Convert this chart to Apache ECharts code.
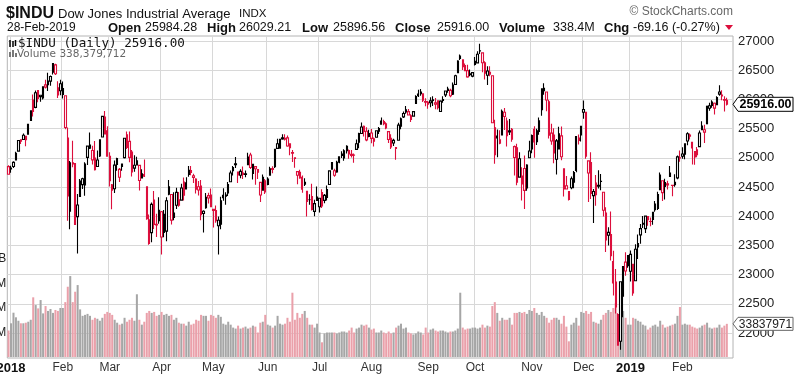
<!DOCTYPE html>
<html><head><meta charset="utf-8">
<script src="https://cdn.jsdelivr.net/npm/echarts@6/dist/echarts.min.js"></script>
<style>html,body{margin:0;padding:0;background:#fff}#c{width:800px;height:380px}</style>
</head><body><div id="c"></div>
<script>
// ---------- DATA ----------
const prevClose = 24837.51; // close before first bar
const startDate = '2017-12-29', endDate = '2019-02-28';
const holidays = ['2018-01-01','2018-01-15','2018-02-19','2018-03-30','2018-05-28','2018-07-04','2018-09-03','2018-11-22','2018-12-05','2018-12-25','2019-01-01','2019-01-21','2019-02-18'];
const monthNames = ['Jan','Feb','Mar','Apr','May','Jun','Jul','Aug','Sep','Oct','Nov','Dec'];

// [open, high, low, close]
const ohlc_2017_12 = [[24849,24871,24719,24719]];
const ohlc_2018_01 = [[24809,24864,24742,24824],[24850,24941,24825,24922],[24964,25105,24963,25075],[25114,25299,25112,25295],[25308,25311,25236,25283],[25313,25417,25306,25385],[25309,25370,25199,25369],[25404,25575,25404,25574],[25638,25812,25638,25803],[25987,26086,25709,25792],[25863,26153,25850,26115],[26150,26154,25953,26017],[26047,26072,25959,26071],[26026,26215,25998,26214],[26248,26338,26186,26210],[26314,26458,26144,26252],[26313,26410,26235,26392],[26467,26617,26428,26616],[26591,26609,26418,26439],[26198,26312,26022,26076],[26268,26338,26071,26149]];
const ohlc_2018_02 = [[26083,26306,26014,26186],[26062,26062,25490,25520],[25337,25520,23923,24345],[24085,24946,23778,24913],[24916,25294,24840,24893],[24903,24903,23849,23860],[23993,24382,23360,24191],[24337,24636,24337,24601],[24541,24658,24466,24640],[24536,24925,24350,24893],[25008,25200,24876,25200],[25165,25432,25149,25219],[25125,25207,24884,24964],[24996,25286,24782,24798],[24852,25126,24844,24963],[25033,25310,25013,25310],[25355,25709,25355,25709],[25697,25800,25409,25410],[25463,25540,25028,25029]];
const ohlc_2018_03 = [[25024,25093,24509,24608],[24447,24551,24117,24538],[24469,24955,24396,24874],[24988,24999,24779,24884],[24668,24827,24584,24801],[24853,24904,24779,24895],[25003,25336,24990,25336],[25393,25450,25151,25178],[25281,25449,24923,25007],[25097,25133,24681,24758],[24823,25042,24762,24873],[24878,25020,24877,24947],[24870,24870,24438,24611],[24656,24806,24649,24727],[24712,24972,24671,24683],[24504,24504,23940,23958],[23940,24028,23510,23533],[23719,24233,23556,24202],[24277,24430,23779,23857],[23862,24040,23645,23849],[23921,24326,23872,24103]];
const ohlc_2018_04 = [[24076,24090,23345,23644],[23720,24107,23641,24034],[23745,24325,23573,24264],[24375,24622,24358,24505],[24372,24372,23859,23933],[24052,24408,23932,23979],[24187,24488,24122,24408],[24282,24414,24160,24189],[24275,24556,24270,24483],[24585,24662,24269,24360],[24466,24665,24466,24573],[24713,24858,24676,24786],[24781,24859,24700,24748],[24693,24728,24568,24665],[24635,24649,24390,24463],[24503,24602,24356,24448],[24515,24621,23931,24024],[24045,24104,23723,24084],[24146,24398,24129,24322],[24353,24400,24219,24311],[24363,24474,24162,24163]];
const ohlc_2018_05 = [[24117,24117,23808,24100],[24097,24185,23886,23925],[23836,23996,23344,23930],[23865,24333,23778,24263],[24317,24479,24263,24357],[24341,24412,24198,24361],[24399,24586,24346,24542],[24591,24784,24591,24739],[24777,24860,24697,24831],[24883,25015,24824,24899],[24757,24757,24570,24706],[24700,24804,24650,24768],[24741,24853,24638,24714],[24727,24783,24667,24715],[24883,25087,24883,25013],[25048,25086,24810,24835],[24732,24887,24627,24887],[24849,24849,24538,24812],[24800,24800,24639,24753],[24579,24579,24245,24362],[24444,24716,24444,24668],[24607,24636,24382,24416]];
const ohlc_2018_06 = [[24542,24667,24530,24635],[24701,24845,24701,24813],[24818,24856,24734,24800],[24848,25147,24826,25147],[25161,25326,25161,25241],[25165,25318,25160,25317],[25342,25403,25309,25322],[25335,25402,25296,25320],[25342,25383,25191,25201],[25240,25240,25044,25175],[25079,25133,24926,25090],[24999,25009,24829,24987],[24763,24763,24545,24700],[24751,24794,24642,24657],[24664,24697,24401,24461],[24548,24650,24516,24580],[24426,24426,23997,24252],[24284,24375,24196,24284],[24336,24554,24098,24117],[24082,24283,23999,24216],[24326,24509,24271,24271]];
const ohlc_2018_07 = [[24161,24307,24062,24307],[24406,24462,24141,24174],[24271,24381,24222,24357],[24322,24526,24268,24456],[24542,24781,24542,24776],[24805,24920,24805,24919],[24777,24811,24675,24700],[24759,24948,24744,24924],[24923,25020,24907,25019],[25041,25114,24996,25064],[24996,25145,24949,25120],[25121,25215,25074,25199],[25125,25142,24985,25064],[25040,25135,25006,25058],[25047,25075,24917,25044],[25145,25313,25144,25241],[25268,25427,25162,25414],[25415,25603,25415,25527],[25541,25555,25366,25451],[25454,25524,25283,25307],[25366,25481,25354,25415]];
const ohlc_2018_08 = [[25425,25493,25250,25333],[25285,25347,25193,25326],[25353,25471,25342,25463],[25457,25527,25408,25502],[25575,25692,25575,25629],[25622,25652,25558,25583],[25582,25609,25491,25509],[25449,25449,25253,25313],[25336,25403,25152,25187],[25253,25328,25204,25299],[25174,25174,24965,25162],[25301,25602,25301,25559],[25539,25692,25490,25669],[25700,25793,25680,25758],[25785,25888,25754,25822],[25791,25835,25723,25733],[25719,25746,25615,25656],[25714,25800,25707,25790],[25930,26070,25930,26049],[26091,26167,26043,26064],[26097,26180,26061,26124],[26096,26103,25955,25986],[25954,26018,25883,25964]];
const ohlc_2018_09 = [[25917,25972,25840,25952],[25943,26037,25865,25974],[25983,26052,25889,25995],[25940,26025,25830,25916],[25974,25981,25828,25857],[25792,25987,25791,25971],[25980,26055,25941,25998],[26077,26154,26041,26145],[26178,26217,26115,26154],[26154,26184,26035,26062],[26088,26291,26075,26246],[26256,26423,26256,26405],[26456,26671,26456,26657],[26703,26770,26676,26743],[26678,26679,26502,26562],[26581,26613,26480,26492],[26492,26592,26369,26385],[26425,26511,26397,26440],[26399,26469,26378,26458]];
const ohlc_2018_10 = [[26598,26726,26579,26651],[26625,26824,26625,26774],[26833,26952,26778,26828],[26796,26804,26466,26627],[26628,26652,26341,26447],[26413,26568,26245,26487],[26466,26566,26395,26431],[26405,26415,25598,25599],[25512,25650,24899,25053],[25371,25484,25008,25340],[25309,25470,25234,25251],[25390,25827,25390,25798],[25779,25853,25475,25706],[25628,25688,25192,25380],[25462,25664,25389,25444],[25489,25511,25273,25317],[25005,25209,24697,25191],[25173,25242,24528,24583],[24669,25093,24669,24984],[24551,24840,24268,24689],[24818,25040,24122,24443],[24482,24890,24435,24875],[25002,25292,24993,25116]];
const ohlc_2018_11 = [[25152,25398,25077,25380],[25487,25542,25002,25271],[25276,25497,25218,25462],[25452,25689,25394,25635],[25823,26192,25722,26181],[26147,26277,26081,26191],[26127,26127,25796,25989],[25960,25992,25332,25387],[25423,25581,25223,25287],[25388,25506,24905,25081],[24974,25322,24716,25290],[25150,25533,25150,25413],[25376,25535,24956,25018],[24810,24810,24339,24466],[24522,24688,24465,24465],[24420,24427,24268,24286],[24488,24680,24460,24640],[24582,24774,24478,24749],[24783,25366,24754,25366],[25295,25397,25226,25339],[25393,25539,25277,25538]];
const ohlc_2018_12 = [[25779,25980,25670,25827],[25781,25781,24983,25027],[24740,24956,24242,24947],[24919,25095,24293,24389],[24353,24466,23882,24423],[24566,24707,24179,24370],[24513,24786,24474,24527],[24594,24722,24446,24597],[24410,24410,23993,24101],[24053,24154,23389,23592],[23723,23810,23498,23675],[23685,24080,23242,23324],[23225,23409,22640,22859],[22872,23096,22335,22445],[22317,22339,21792,21792],[21858,22878,21712,22878],[22629,23139,22268,23138],[23213,23381,22981,23062],[23154,23333,23118,23327]];
const ohlc_2019_01 = [[23058,23413,22880,23346],[23177,23177,22638,22686],[22894,23518,22894,23433],[23474,23687,23266,23531],[23680,23865,23529,23787],[23864,24004,23796,23879],[23787,24002,23713,24001],[23940,24003,23837,23996],[23909,23977,23826,23910],[23943,24075,23855,24066],[24112,24262,24075,24207],[24134,24418,24108,24370],[24453,24750,24453,24706],[24606,24606,24261,24404],[24511,24640,24288,24575],[24535,24605,24458,24553],[24680,24859,24680,24737],[24529,24529,24340,24528],[24540,24717,24505,24580],[24656,25041,24631,25015],[25001,25124,24931,24999]];
const ohlc_2019_02 = [[25026,25180,24983,25064],[25063,25239,24977,25239],[25287,25439,25217,25411],[25371,25417,25314,25390],[25265,25265,24884,25169],[25015,25111,24883,25106],[25139,25187,25008,25053],[25192,25467,25192,25425],[25482,25625,25476,25543],[25481,25564,25253,25439],[25583,25883,25583,25883],[25848,25942,25807,25891],[25898,25986,25856,25954],[25934,25948,25743,25850],[25909,26052,25908,26031],[26127,26241,26064,26091],[26076,26156,25986,26057],[25996,26052,25792,25985.16],[25984.28,26029.21,25896.56,25916.00]];

// volume, millions of shares
const vol_2017_12 = [270];
const vol_2018_01 = [344,452,405,370,344,344,350,360,380,609,530,496,581,445,520,470,490,450,480,470,500];
const vol_2018_02 = [500,560,717,826,560,666,734,486,420,430,440,420,380,400,390,370,400,440,460];
const vol_2018_03 = [450,430,380,350,330,340,400,360,380,400,370,640,380,330,360,450,470,450,460,420,430];
const vol_2018_04 = [460,430,440,420,430,380,400,350,340,340,320,360,330,340,380,370,430,420,420,370,430];
const vol_2018_05 = [420,400,430,410,340,330,360,330,300,290,320,290,300,310,290,300,320,310,250,350,360,430];
const vol_2018_06 = [330,320,300,320,420,340,330,340,400,360,656,380,450,400,440,470,400,330,330,300,340];
const vol_2018_07 = [250,150,240,250,250,250,250,240,250,260,260,250,270,300,250,290,300,330,320,330,300];
const vol_2018_08 = [280,290,250,250,270,250,240,260,240,250,300,320,340,290,300,250,240,230,240,260,250,230,300];
const vol_2018_09 = [250,280,290,270,260,270,270,260,250,260,260,270,290,656,300,280,290,290,300];
const vol_2018_10 = [300,290,300,330,300,320,310,520,560,450,370,400,380,380,400,330,450,450,460,450,460,440,480];
const vol_2018_11 = [470,500,450,430,460,420,400,350,380,400,400,380,340,420,310,160,330,350,400,320,460];
const vol_2018_12 = [450,470,440,460,360,350,340,380,430,450,480,460,500,550,250,430,470,400,330];
const vol_2019_01 = [330,400,390,370,360,330,320,280,300,320,330,310,370,330,300,310,320,330,340,420,510];
const vol_2019_02 = [330,340,330,330,310,300,290,300,320,330,350,300,290,300,300,330,300,320,338.379712];

// ---------- BUILD ----------
const ohlc = [].concat(ohlc_2017_12,ohlc_2018_01,ohlc_2018_02,ohlc_2018_03,ohlc_2018_04,ohlc_2018_05,ohlc_2018_06,ohlc_2018_07,ohlc_2018_08,ohlc_2018_09,ohlc_2018_10,ohlc_2018_11,ohlc_2018_12,ohlc_2019_01,ohlc_2019_02);
const vol = [].concat(vol_2017_12,vol_2018_01,vol_2018_02,vol_2018_03,vol_2018_04,vol_2018_05,vol_2018_06,vol_2018_07,vol_2018_08,vol_2018_09,vol_2018_10,vol_2018_11,vol_2018_12,vol_2019_01,vol_2019_02);

const dates = [];
for (let t = Date.parse(startDate + 'T00:00:00Z'); t <= Date.parse(endDate + 'T00:00:00Z'); t += 86400000) {
  const d = new Date(t), wd = d.getUTCDay(), s = d.toISOString().slice(0, 10);
  if (wd === 0 || wd === 6 || holidays.includes(s)) continue;
  dates.push(s);
}

const RED = '#dc0f3c', BLK = '#000000', PINK = '#eaa0aa', GRAY = '#a6a6a6';
const candleData = [], volData = [];
for (let i = 0; i < ohlc.length; i++) {
  const [o, h, l, c] = ohlc[i];
  const pc = i === 0 ? prevClose : ohlc[i - 1][3];
  const col = c < pc ? RED : BLK;
  candleData.push({ value: [o, c, l, h], itemStyle: { color: '#ffffff', color0: col, borderColor: col, borderColor0: col } });
  volData.push({ value: vol[i], itemStyle: { color: c < pc ? PINK : GRAY } });
}

const isMonthStart = (i) => i > 0 && i < dates.length && dates[i].slice(0, 7) !== dates[i - 1].slice(0, 7);
const FONT = '"Liberation Sans", Arial, sans-serif';

const chart = echarts.init(document.getElementById('c'), null, { renderer: 'canvas' });
const L = 7.3, R = 67;
const option = {
  animation: false,
  backgroundColor: '#ffffff',
  grid: [
    { left: L, right: R, top: 41, bottom: 47, show: false, containLabel: false, outerBoundsMode: 'none' },
    { left: L, right: R, top: 259, bottom: 23, show: false, containLabel: false, outerBoundsMode: 'none' },
    { left: L, right: R, top: 36, bottom: 22, show: true, borderColor: '#b4b4b4', borderWidth: 1, backgroundColor: 'rgba(0,0,0,0)', containLabel: false, outerBoundsMode: 'none' }
  ],
  xAxis: [
    { type: 'category', gridIndex: 0, data: dates, max: dates.length + 1, show: false },
    { type: 'category', gridIndex: 1, data: dates, max: dates.length + 1, show: false },
    { type: 'category', gridIndex: 2, data: dates, max: dates.length + 1,
      axisLine: { show: false }, axisTick: { show: false },
      splitLine: { show: true, interval: (i) => isMonthStart(i), lineStyle: { color: '#d8d8d8', width: 1 } },
      axisLabel: { interval: (i) => isMonthStart(i), margin: 4, hideOverlap: false,
        formatter: (v) => { const m = +v.slice(5, 7); return m === 1 ? '{b|' + v.slice(0, 4) + '}' : '{m|' + monthNames[m - 1] + '}'; },
        rich: { b: { fontFamily: FONT, fontSize: 13, fontWeight: 'bold', color: '#111' }, m: { fontFamily: FONT, fontSize: 12, color: '#333' } } } }
  ],
  yAxis: [
    { type: 'value', gridIndex: 0, position: 'right', min: 22000, max: 27000, interval: 500,
      axisLine: { show: false }, axisTick: { show: false },
      axisLabel: { margin: 5, color: '#222', fontSize: 13, fontFamily: FONT, formatter: (v) => String(v) },
      splitLine: { show: true, lineStyle: { color: '#d8d8d8', width: 1 } } },
    { type: 'value', gridIndex: 1, position: 'left', min: 0, max: 1000, interval: 250,
      axisLine: { show: false }, axisTick: { show: false }, splitLine: { show: false },
      axisLabel: { margin: 1, color: '#222', fontSize: 12, fontFamily: FONT, formatter: (v) => v === 0 ? '' : (v >= 1000 ? (v / 1000) + 'B' : v + 'M') } },
    { type: 'value', gridIndex: 2, show: false }
  ],
  series: [
    { type: 'bar', xAxisIndex: 1, yAxisIndex: 1, data: volData, barWidth: '82%', z: 1, silent: true },
    { type: 'candlestick', xAxisIndex: 0, yAxisIndex: 0, data: candleData, barWidth: 1.9, clip: false, z: 3, silent: true,
      itemStyle: { borderWidth: 1.1 } }
  ]
};
chart.setOption(option);

// ---------- ANNOTATIONS ----------
const last = ohlc[ohlc.length - 1], prev = ohlc[ohlc.length - 2];
const lastVol = vol[vol.length - 1];
const chg = last[3] - prev[3], pct = chg / prev[3] * 100;
const ld = new Date(dates[dates.length - 1] + 'T00:00:00Z');
const dateStr = String(ld.getUTCDate()).padStart(2, '0') + '-' + monthNames[ld.getUTCMonth()] + '-' + ld.getUTCFullYear();
const yP = chart.convertToPixel({ yAxisIndex: 0 }, last[3]);
const yV = chart.convertToPixel({ yAxisIndex: 1 }, lastVol);
const txt = (x, y, text, font, fill, align) => ({ type: 'text', x: x, y: y, silent: true, z: 130,
  style: { text: text, font: font, fill: fill || '#111', align: align || 'left', verticalAlign: 'middle' } });
const B = 'bold 13px ' + FONT, N = '12.5px ' + FONT;
const g = [
  txt(6, 14, '$INDU', 'bold 16px ' + FONT),
  txt(58, 14, 'Dow Jones Industrial Average', '13px ' + FONT),
  txt(239, 14, 'INDX', '11.5px ' + FONT),
  txt(733, 12, '\u00A9 StockCharts.com', '12px ' + FONT, '#666', 'right'),
  txt(7, 28, dateStr, '12px ' + FONT),
  txt(108, 28, 'Open', B), txt(145, 28, last[0].toFixed(2), N),
  txt(207, 28, 'High', B), txt(239, 28, last[1].toFixed(2), N),
  txt(302, 28, 'Low', B), txt(333, 28, last[2].toFixed(2), N),
  txt(395, 28, 'Close', B), txt(437, 28, last[3].toFixed(2), N),
  txt(499, 28, 'Volume', B), txt(553, 28, (lastVol).toFixed(1) + 'M', N),
  txt(604, 28, 'Chg', B), txt(633, 28, chg.toFixed(2) + ' (' + pct.toFixed(2) + '%)', N),
  { type: 'polygon', silent: true, z: 100, shape: { points: [[725, 25], [733, 25], [729, 30]] }, style: { fill: RED } },
  txt(18, 44, '$INDU (Daily) ' + last[3].toFixed(2), '12.6px "DejaVu Sans Mono", monospace', '#111'),
  txt(17, 54, 'Volume ' + Math.round(lastVol * 1e6).toLocaleString('en-US'), '10.5px "DejaVu Sans", Verdana, sans-serif', '#666'),
  // legend icons
  { type: 'line', silent: true, z: 100, shape: { x1: 10, y1: 40, x2: 10, y2: 47 }, style: { stroke: '#000', lineWidth: 1.5 } },
  { type: 'line', silent: true, z: 100, shape: { x1: 13, y1: 41, x2: 13, y2: 47 }, style: { stroke: '#000', lineWidth: 1.5 } },
  { type: 'line', silent: true, z: 100, shape: { x1: 15.5, y1: 40, x2: 15.5, y2: 46 }, style: { stroke: '#000', lineWidth: 1.5 } },
  { type: 'rect', silent: true, z: 100, shape: { x: 9, y: 52, width: 2, height: 5 }, style: { fill: '#777' } },
  { type: 'rect', silent: true, z: 100, shape: { x: 12, y: 50, width: 2, height: 7 }, style: { fill: '#777' } },
  { type: 'rect', silent: true, z: 100, shape: { x: 15, y: 53, width: 2, height: 4 }, style: { fill: '#777' } },
  // price tag
  { type: 'polygon', silent: true, z: 110, shape: { points: [[733, yP], [738, yP - 7], [793, yP - 7], [793, yP + 7], [738, yP + 7]] }, style: { fill: '#fff', stroke: '#000', lineWidth: 1 } },
  txt(765.5, yP + 0.5, last[3].toFixed(2), 'bold 12.5px ' + FONT, '#000', 'center'),
  // volume tag
  { type: 'polygon', silent: true, z: 110, shape: { points: [[733, yV], [738, yV - 6.5], [793, yV - 6.5], [793, yV + 6.5], [738, yV + 6.5]] }, style: { fill: '#fff', stroke: '#666', lineWidth: 1 } },
  txt(765.5, yV + 0.5, String(Math.round(lastVol * 1e6)).slice(0, 8), '12px ' + FONT, '#222', 'center')
];
chart.setOption({ graphic: g });
</script>
</body></html>
